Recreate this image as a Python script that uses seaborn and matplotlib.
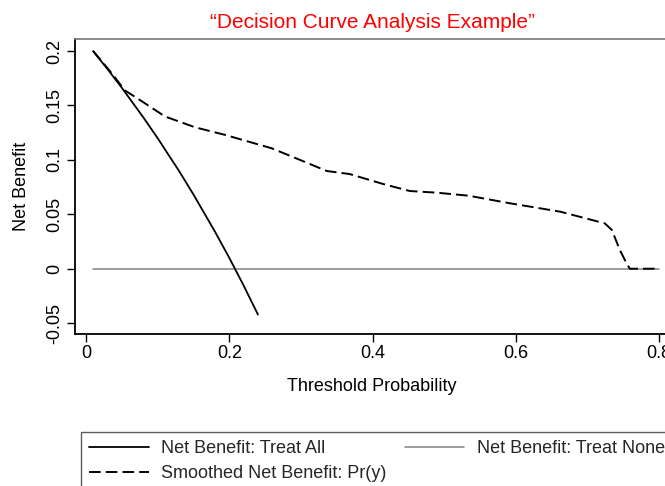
import matplotlib
matplotlib.use("Agg")
import matplotlib.pyplot as plt
import seaborn as sns
import pandas as pd

# ---- data ----
thr_all = [0.01, 0.03, 0.05, 0.08, 0.10, 0.13, 0.15, 0.18, 0.20, 0.22, 0.24]
nb_all = [0.200, 0.1835, 0.1663, 0.1391, 0.120, 0.0897, 0.0682, 0.0341, 0.010, -0.0154, -0.0421]

thr_none = [0.01, 0.80]
nb_none = [0.0, 0.0]

thr_smooth = [0.01, 0.036, 0.054, 0.08, 0.11, 0.152, 0.194, 0.259, 0.299, 0.336, 0.368,
              0.415, 0.452, 0.489, 0.534, 0.592, 0.662, 0.724, 0.734, 0.745, 0.755, 0.759, 0.80]
nb_smooth = [0.200, 0.1796, 0.164, 0.153, 0.140, 0.130, 0.123, 0.1107, 0.0999, 0.0898, 0.087,
             0.0778, 0.0714, 0.0699, 0.0671, 0.0601, 0.0524, 0.0417, 0.0356, 0.0172, 0.0043, 0.0, 0.0]

x_ticks = [0, 0.2, 0.4, 0.6, 0.8]
x_tick_labels = ["0", "0.2", "0.4", "0.6", "0.8"]
y_ticks = [-0.05, 0, 0.05, 0.1, 0.15, 0.2]
y_tick_labels = ["-0.05", "0", "0.05", "0.1", "0.15", "0.2"]

label_all = "Net Benefit: Treat All"
label_none = "Net Benefit: Treat None"
label_smooth = "Smoothed Net Benefit: Pr(y)"
title = "\u201cDecision Curve Analysis Example\u201d"

df_all = pd.DataFrame({"x": thr_all, "y": nb_all})
df_none = pd.DataFrame({"x": thr_none, "y": nb_none})
df_smooth = pd.DataFrame({"x": thr_smooth, "y": nb_smooth})

sns.set_style("ticks")
plt.rcParams["font.family"] = ["Liberation Sans", "DejaVu Sans"]
FS = 13

W, H = 665, 486
fig = plt.figure(figsize=(W / 100, H / 100), dpi=100)
ax_l, ax_r, ax_t, ax_b = 75, 669, 39, 334
ax = fig.add_axes([ax_l / W, 1 - ax_b / H, (ax_r - ax_l) / W, (ax_b - ax_t) / H])

sns.lineplot(data=df_none, x="x", y="y", ax=ax, color="#8c8c8c", linewidth=1.2,
             sort=False, estimator=None, label=label_none)
sns.lineplot(data=df_all, x="x", y="y", ax=ax, color="black", linewidth=1.3,
             sort=False, estimator=None, label=label_all)
sns.lineplot(data=df_smooth, x="x", y="y", ax=ax, color="black", linewidth=1.4,
             sort=False, estimator=None, label=label_smooth, linestyle=(0, (6, 2.6)))

ax.set_xlim(-0.0153, (ax_r - 86) / 716.5)
ax.set_ylim(-0.060, 0.2111)
ax.set_xticks(x_ticks)
ax.set_xticklabels(x_tick_labels)
ax.set_yticks(y_ticks)
ax.set_yticklabels(y_tick_labels, rotation=90, va="center")
ax.tick_params(axis="both", direction="out", length=5.5, width=1.0, color="black",
               labelsize=FS, labelcolor="black")
ax.tick_params(axis="x", pad=2.5)
ax.tick_params(axis="y", pad=3.0)

for s in ["left", "bottom"]:
    ax.spines[s].set_color("black")
    ax.spines[s].set_linewidth(1.3)
ax.spines["top"].set_visible(True)
ax.spines["top"].set_color("#777777")
ax.spines["top"].set_linewidth(1.2)
ax.spines["right"].set_visible(False)

ax.set_xlabel("Threshold Probability", fontsize=FS, color="black")
ax.set_ylabel("Net Benefit", fontsize=FS, color="black")
ax.xaxis.set_label_coords(0.5, -(377.6 - ax_b) / (ax_b - ax_t))
ax.yaxis.set_label_coords(-(ax_l - 30.5) / (ax_r - ax_l), 0.5)

ax.set_title(title, color="#ff0000", fontsize=15, pad=8)

lines = ax.get_lines()
handles = {l.get_label(): l for l in lines}
ax.get_legend().remove()
leg = fig.legend([handles[label_all], handles[label_smooth], handles[label_none]],
                 [label_all, label_smooth, label_none],
                 loc="upper left", bbox_to_anchor=(81 / W, 1 - 432 / H),
                 ncol=2, fontsize=FS, frameon=True, fancybox=False,
                 handlelength=3.3, handletextpad=0.7, columnspacing=1.0,
                 labelspacing=0.45, borderpad=0.45, borderaxespad=0)
leg.get_frame().set_edgecolor("#333333")
leg.get_frame().set_linewidth(1.0)

fig.savefig("out.png", dpi=100)
